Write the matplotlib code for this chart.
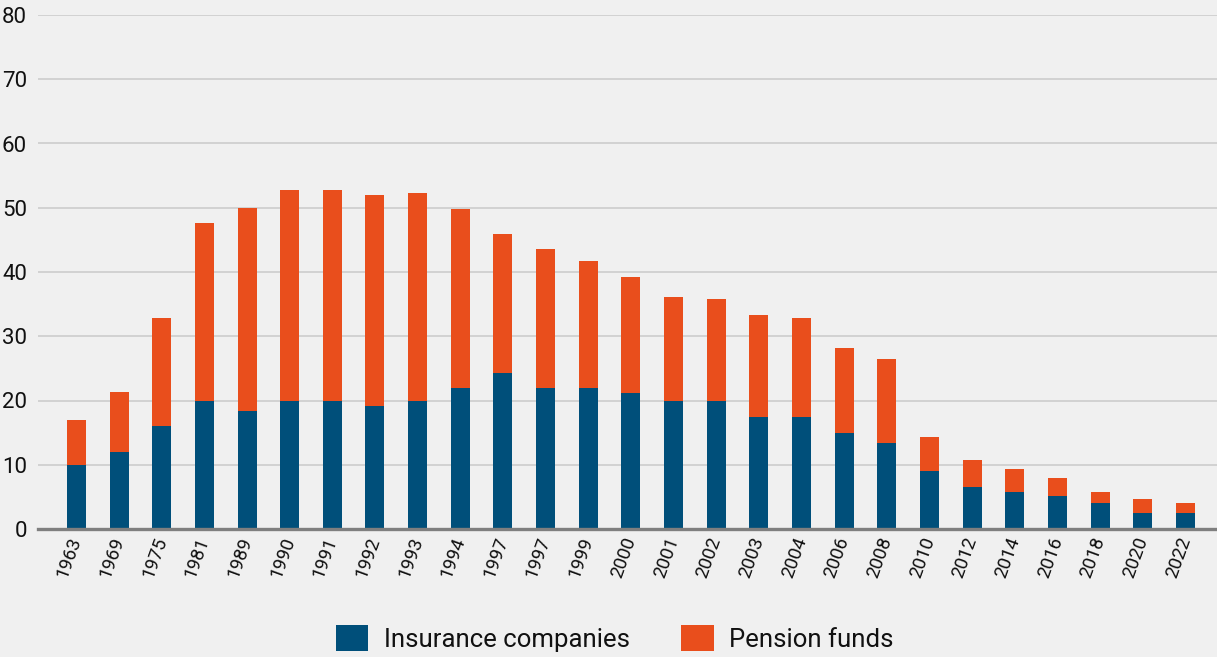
import matplotlib
matplotlib.use("Agg")
import matplotlib.pyplot as plt
import numpy as np

years = ["1963", "1969", "1975", "1981", "1989", "1990", "1991", "1992", "1993",
         "1994", "1997", "1997", "1999", "2000", "2001", "2002", "2003", "2004",
         "2006", "2008", "2010", "2012", "2014", "2016", "2018", "2020", "2022"]
insurance = [10.0, 12.0, 16.0, 20.0, 18.4, 20.0, 20.0, 19.2, 20.0,
             22.0, 24.3, 22.0, 22.0, 21.1, 20.0, 20.0, 17.4, 17.4,
             15.0, 13.4, 9.1, 6.5, 5.7, 5.1, 4.0, 2.5, 2.5]
totals = [16.9, 21.3, 32.8, 47.7, 49.9, 52.8, 52.8, 52.0, 52.3,
          49.8, 45.9, 43.6, 41.7, 39.2, 36.1, 35.8, 33.3, 32.8,
          28.2, 26.5, 14.3, 10.8, 9.3, 8.0, 5.8, 4.6, 4.0]
pension = [round(t - i, 2) for t, i in zip(totals, insurance)]

BLUE = "#004f7a"
ORANGE = "#e94e1c"
BG = "#f0f0f0"

plt.rcParams["font.family"] = ["Roboto", "DejaVu Sans"]

W, H = 1217, 657
fig = plt.figure(figsize=(W / 100, H / 100), dpi=100, facecolor=BG)
left, right, top, bottom = 38, 1217, 15, 529
ax = fig.add_axes([left / W, 1 - bottom / H, (right - left) / W, (bottom - top) / H])
ax.set_facecolor(BG)

x = np.arange(len(years))
ax.bar(x, insurance, width=0.445, color=BLUE, label="Insurance companies", zorder=3)
ax.bar(x, pension, width=0.445, bottom=insurance, color=ORANGE, label="Pension funds", zorder=3)

ax.set_xlim(-0.9, len(years) - 1 + 0.74)
ax.set_ylim(0, 80)
ax.set_yticks(range(0, 81, 10))
ax.yaxis.grid(True, color="#d2d2d2", linewidth=1.4, zorder=0)
ax.set_axisbelow(True)

for s in ["top", "right", "left"]:
    ax.spines[s].set_visible(False)
ax.spines["bottom"].set_color("#7f7f7f")
ax.spines["bottom"].set_linewidth(2.4)
ax.spines["bottom"].set_zorder(4)

ax.tick_params(axis="y", length=0, pad=8, labelsize=16, labelcolor="#111111")
ax.tick_params(axis="x", length=0, pad=6, labelsize=13.5, labelcolor="#111111")
ax.set_xticks(x)
ax.set_xticklabels(years, rotation=70, ha="right", va="center", rotation_mode="anchor")

leg = fig.legend(loc="center", bbox_to_anchor=(615 / W, 1 - 638.5 / H), ncol=2,
                 frameon=False, fontsize=18.5, handlelength=1.25, handleheight=1.2,
                 handletextpad=0.62, columnspacing=2.0, labelcolor="#111111")

fig.savefig("out.png", dpi=100, facecolor=BG)
